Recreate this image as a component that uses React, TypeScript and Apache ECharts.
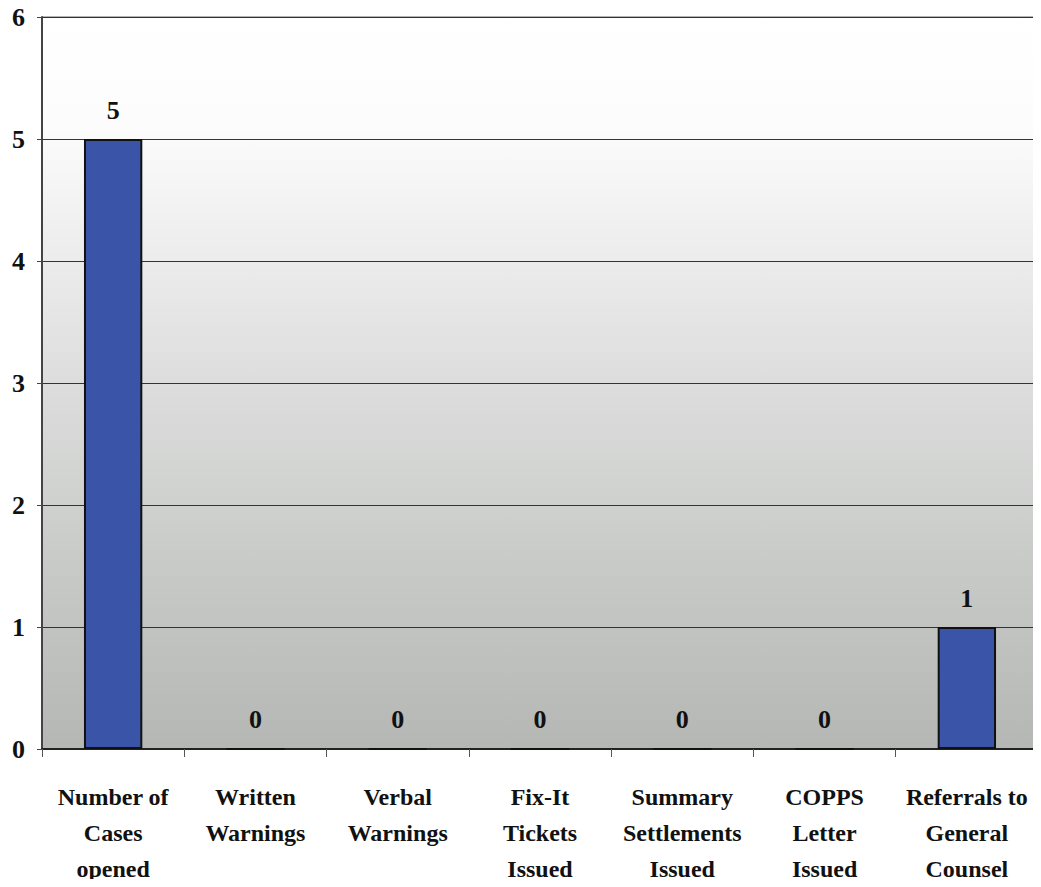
import React, { useEffect, useRef } from "react";
import * as echarts from "echarts";

const categories = [
  "Number of\nCases\nopened",
  "Written\nWarnings",
  "Verbal\nWarnings",
  "Fix-It\nTickets\nIssued",
  "Summary\nSettlements\nIssued",
  "COPPS\nLetter\nIssued",
  "Referrals to\nGeneral\nCounsel",
];
const values = [5, 0, 0, 0, 0, 0, 1];
const yMin = 0;
const yMax = 6;
const yInterval = 1;

const FONT = "Liberation Serif";

export default function App() {
  const ref = useRef<HTMLDivElement>(null);
  useEffect(() => {
    if (!ref.current) return;
    const chart = echarts.init(ref.current, undefined, { renderer: "svg" });
    chart.setOption({
      animation: false,
      backgroundColor: "#ffffff",
      grid: {
        left: 42,
        right: 3,
        top: 17,
        bottom: 134,
        show: true,
        borderWidth: 1,
        borderColor: "#6a6a6a",
        backgroundColor: new echarts.graphic.LinearGradient(0, 0, 0, 1, [
          { offset: 0, color: "#ffffff" },
          { offset: 0.15, color: "#fcfcfc" },
          { offset: 0.5, color: "#dcdddc" },
          { offset: 1, color: "#b4b7b4" },
        ]),
      },
      xAxis: {
        type: "category",
        data: categories,
        axisLine: { lineStyle: { color: "#222", width: 2 } },
        axisTick: { show: true, length: 8, alignWithLabel: false, lineStyle: { color: "#555" } },
        axisLabel: {
          interval: 0,
          margin: 30,
          fontFamily: FONT,
          fontWeight: "bold",
          fontSize: 24,
          lineHeight: 36,
          color: "#111",
        },
      },
      yAxis: {
        type: "value",
        min: yMin,
        max: yMax,
        interval: yInterval,
        axisLine: { show: true, lineStyle: { color: "#444", width: 2 } },
        axisTick: { show: true, length: 5, lineStyle: { color: "#444" } },
        splitLine: { lineStyle: { color: "#333", width: 1 } },
        axisLabel: {
          margin: 17,
          fontFamily: FONT,
          fontWeight: "bold",
          fontSize: 26,
          color: "#111",
        },
      },
      series: [
        {
          type: "bar",
          data: values,
          barWidth: "41%",
          itemStyle: { color: "#3a55a8", borderColor: "#111", borderWidth: 2 },
          label: {
            show: true,
            position: "top",
            distance: 16,
            fontFamily: FONT,
            fontWeight: "bold",
            fontSize: 26,
            color: "#111",
          },
        },
      ],
    });
    return () => chart.dispose();
  }, []);
  return <div ref={ref} style={{ width: 1041, height: 887, margin: -8 }} />;
}
